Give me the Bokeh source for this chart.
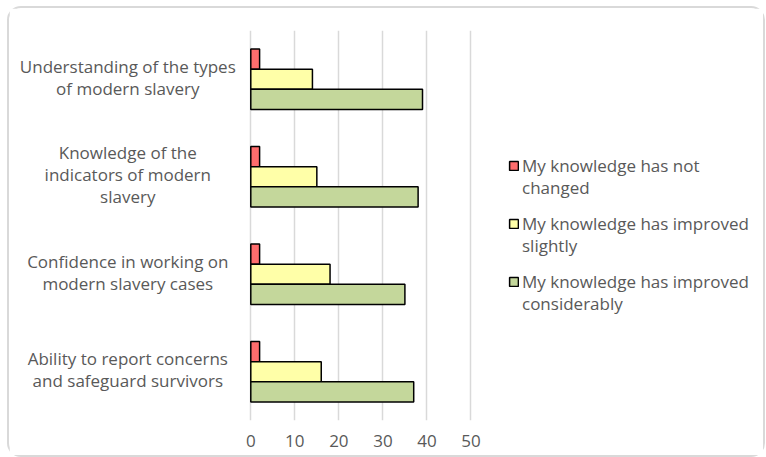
from bokeh.plotting import figure
from bokeh.models import FactorRange, Range1d, Label, Legend, LegendItem, FixedTicker, ColumnDataSource
from bokeh.transform import dodge
from bokeh.embed import file_html
from bokeh.resources import INLINE

categories = [
    "Understanding of the types\nof modern slavery",
    "Knowledge of the\nindicators of modern\nslavery",
    "Confidence in working on\nmodern slavery cases",
    "Ability to report concerns\nand safeguard survivors",
]
series_line1 = ["My knowledge has not", "My knowledge has improved", "My knowledge has improved"]
series_line2 = ["changed", "slightly", "considerably"]
not_changed = [2, 2, 2, 2]
improved_slightly = [14, 15, 18, 16]
improved_considerably = [39, 38, 35, 37]
x_ticks = [0, 10, 20, 30, 40, 50]

colors = ["#FF6D6D", "#FFFFA8", "#C4D79B"]
FONT = "Open Sans"
FS = "17px"
TXT = "#595959"

src = ColumnDataSource(dict(cat=categories, a=not_changed, b=improved_slightly, c=improved_considerably))

factors = list(reversed(categories))
p = figure(
    width=754, height=447,
    y_range=FactorRange(*factors, range_padding=0),
    x_range=Range1d(-54.8, 117.35),
    output_backend="svg", toolbar_location=None,
    min_border_left=0, min_border_right=0, min_border_top=22, min_border_bottom=39,
)
p.styles = {"border": "2px solid #d9d9d9", "border-radius": "14px",
            "box-sizing": "content-box", "margin-left": "7px", "margin-top": "6px"}
p.outline_line_color = None

bw = 0.207
r1 = p.hbar(y=dodge("cat", bw, range=p.y_range), right="a", left=0, height=bw, source=src,
            fill_color=colors[0], line_color="black", line_width=1.5)
r2 = p.hbar(y=dodge("cat", 0, range=p.y_range), right="b", left=0, height=bw, source=src,
            fill_color=colors[1], line_color="black", line_width=1.5)
r3 = p.hbar(y=dodge("cat", -bw, range=p.y_range), right="c", left=0, height=bw, source=src,
            fill_color=colors[2], line_color="black", line_width=1.5)
renderers = [r1, r2, r3]
# empty, invisible renderer that only carries the second lines of the legend labels
blank = p.hbar(y=[], right=[], left=0, height=bw, fill_alpha=0, line_alpha=0)

p.yaxis.visible = False
p.ygrid.grid_line_color = None
p.xgrid.grid_line_color = "#d9d9d9"
p.xgrid.grid_line_width = 1.5
p.xgrid.ticker = FixedTicker(ticks=x_ticks)
p.xaxis.ticker = FixedTicker(ticks=x_ticks)
p.xaxis.axis_line_color = None
p.xaxis.major_tick_line_color = None
p.xaxis.minor_tick_line_color = None
p.xaxis.major_label_standoff = 8
p.xaxis.major_label_text_font = FONT
p.xaxis.major_label_text_font_size = FS
p.xaxis.major_label_text_color = TXT

for cat in categories:
    ypos = factors.index(cat) + 0.5  # synthetic coordinate of the factor center
    p.add_layout(Label(x=0, y=ypos, x_offset=-123, y_offset=2, text=cat, text_align="center",
                       text_baseline="middle", text_font=FONT, text_font_size=FS,
                       text_color=TXT, text_line_height=0.95))

common = dict(label_height=24, spacing=34, glyph_width=11, glyph_height=11, label_standoff=3,
              label_text_font=FONT, label_text_font_size=FS,
              label_text_color=TXT, border_line_alpha=0, background_fill_alpha=0,
              padding=0, margin=0)
legend_a = Legend(
    items=[LegendItem(label=t, renderers=[r]) for t, r in zip(series_line1, renderers)],
    location=(499, 127), **common)
legend_b = Legend(
    items=[LegendItem(label=t, renderers=[blank]) for t in series_line2],
    location=(499, 105), **common)
p.add_layout(legend_a, "center")
p.add_layout(legend_b, "center")

open("out.html", "w").write(file_html(p, INLINE))
